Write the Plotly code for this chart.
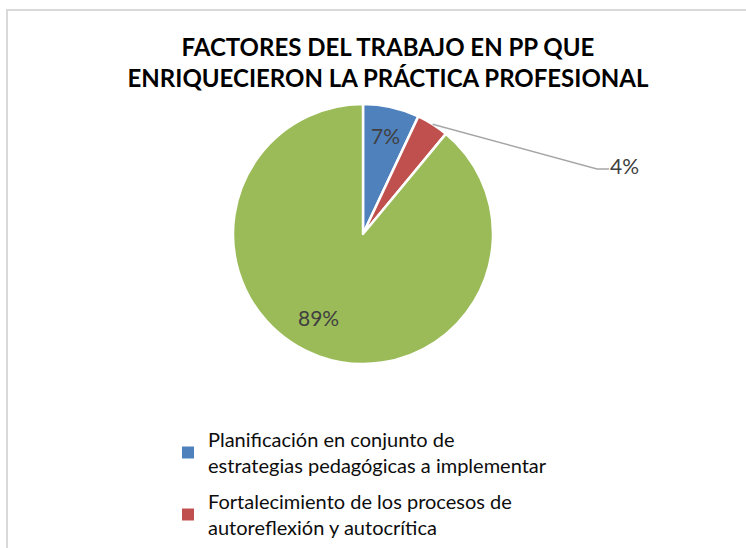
import math
import plotly.graph_objects as go

# ---- data ----
categories = [
    "Planificación en conjunto de<br>estrategias pedagógicas a implementar",
    "Fortalecimiento de los procesos de<br>autoreflexión y autocrítica",
    "Otros factores",
]
values = [7, 4, 89]
colors = ["#4F81BD", "#C0504D", "#9BBB59"]
title_lines = ["FACTORES DEL TRABAJO EN PP QUE", "ENRIQUECIERON LA PRÁCTICA PROFESIONAL"]
legend_shown = 2  # third entry falls outside the visible area

W, H = 746, 548
cx, cy, R = 363, 234, 130  # pie centre / radius in px

fig = go.Figure()
fig.add_trace(go.Pie(
    labels=categories, values=values, sort=False, direction="clockwise", rotation=0,
    marker=dict(colors=colors, line=dict(color="white", width=2.5)),
    textinfo="none", showlegend=False, hoverinfo="label+percent",
    domain=dict(x=[(cx - R) / W, (cx + R) / W], y=[1 - (cy + R) / H, 1 - (cy - R) / H]),
))

# legend entries (dummy traces so each item can be spaced)
for i in range(legend_shown):
    fig.add_trace(go.Scatter(
        x=[None], y=[None], mode="markers", name=categories[i],
        marker=dict(symbol="square", size=9, color=colors[i]),
        legendgroup=f"g{i}", showlegend=True,
    ))

# data labels computed from slice angles
total = sum(values)
cum = 0
label_r = [0.78, None, 0.73]
angles = []
for i, v in enumerate(values):
    mid = (cum + v / 2) / total * 2 * math.pi
    angles.append(mid)
    cum += v
pct = [f"{round(v / total * 100)}%" for v in values]

annotations = []
for i in (0, 2):
    a = angles[i]
    if i == 2:
        a = a + math.radians(8)
    px = cx + label_r[i] * R * math.sin(a)
    py = cy - label_r[i] * R * math.cos(a)
    annotations.append(dict(
        x=px / W, y=1 - py / H, xref="paper", yref="paper", text=pct[i], showarrow=False,
        font=dict(family="Lato", size=21, color="#404040"), xanchor="center", yanchor="middle",
    ))

# outside label with leader line for the small red slice
a = angles[1]
sx, sy = cx + R * math.sin(a), cy - R * math.cos(a)
ex, ey = 597, 169
hx = 609
annotations.append(dict(
    x=(hx - 1) / W, y=1 - 165 / H, xref="paper", yref="paper", text=pct[1], showarrow=False,
    font=dict(family="Lato", size=21, color="#404040"), xanchor="left", yanchor="middle",
))

frame = dict(color="#D9D9D9", width=2)
shapes = [
    dict(type="path", xref="paper", yref="paper",
         path=f"M {sx / W} {1 - sy / H} L {ex / W} {1 - ey / H} L {hx / W} {1 - ey / H}",
         line=dict(color="#A6A6A6", width=1.5)),
    dict(type="line", xref="paper", yref="paper",
         x0=6 / W, x1=1, y0=1 - 10 / H, y1=1 - 10 / H, line=frame),
    dict(type="line", xref="paper", yref="paper",
         x0=7 / W, x1=7 / W, y0=1 - 9 / H, y1=0, line=frame),
]

fig.update_layout(
    width=W, height=H,
    margin=dict(l=0, r=0, t=0, b=0),
    paper_bgcolor="white", plot_bgcolor="white",
    title=dict(
        text="<b>" + "<br>".join(title_lines) + "</b>",
        x=388 / W, xanchor="center", y=1 - 56 / H, yanchor="top", yref="container",
        font=dict(family="Lato", size=24, color="#000000"),
    ),
    xaxis=dict(visible=False), yaxis=dict(visible=False),
    legend=dict(
        x=168 / W, xanchor="left", y=1 - 420 / H, yanchor="top",
        font=dict(family="Lato", size=20, color="#0D0D0D"),
        tracegroupgap=7, itemsizing="constant", bgcolor="rgba(0,0,0,0)",
    ),
    annotations=annotations, shapes=shapes,
    showlegend=True,
)

fig.write_html(
    "out.html",
    config={"displayModeBar": False},
    post_script="document.body.style.margin='0';document.body.style.overflow='hidden';",
)
